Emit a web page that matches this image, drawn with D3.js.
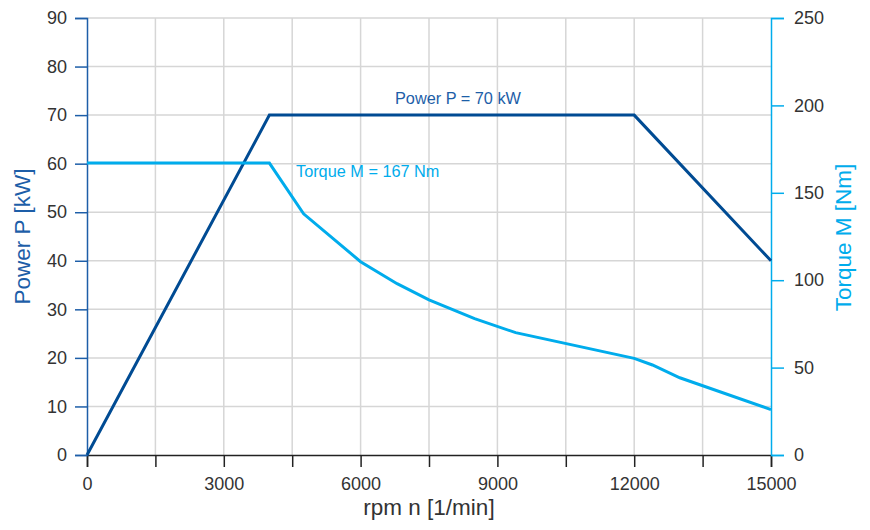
<!DOCTYPE html>
<html>
<head>
<meta charset="utf-8">
<script src="https://cdn.jsdelivr.net/npm/d3@7/dist/d3.min.js"></script>
<style>
  body { margin: 0; background: #fff; }
  svg { font-family: "Liberation Sans", Arial, sans-serif; }
</style>
</head>
<body>
<div class="chart"></div>
<script>
// Data
const rpmTicks = [0, 3000, 6000, 9000, 12000, 15000];
const powerTicks = [0, 10, 20, 30, 40, 50, 60, 70, 80, 90];
const torqueTicks = [0, 50, 100, 150, 200, 250];

const powerRpm = [0, 4000, 12000, 15000];
const powerKw = [0, 70, 70, 40];

const torqueRpm = [0, 4000, 4750, 6000, 6800, 7500, 8500, 9400, 12000, 12400, 13000, 15000];
const torqueNm = [167, 167, 138, 110.6, 98, 88.7, 78, 70, 55.3, 51.5, 44.2, 26];

const width = 870;
const height = 530;
const margin = { top: 18, right: 99, bottom: 75, left: 87 };

const darkBlue = '#004b93';
const lightBlue = '#00acec';

const svg = d3.select('.chart')
  .append('svg')
  .attr('width', width)
  .attr('height', height);

const x = d3.scaleLinear().domain([0, 15000]).range([margin.left, width - margin.right]);
const yP = d3.scaleLinear().domain([0, 90]).range([height - margin.bottom, margin.top]);
const yM = d3.scaleLinear().domain([0, 250]).range([height - margin.bottom, margin.top]);

// grid
const grid = svg.append('g').attr('stroke', '#d6d6d6').attr('stroke-width', 1.5);
d3.range(1500, 15000, 1500).forEach(v => {
  grid.append('line')
    .attr('x1', x(v)).attr('x2', x(v))
    .attr('y1', yP(0)).attr('y2', yP(90));
});
powerTicks.filter(v => v > 0).forEach(v => {
  grid.append('line')
    .attr('x1', x(0)).attr('x2', x(15000))
    .attr('y1', yP(v)).attr('y2', yP(v));
});

// x axis
const xAxis = svg.append('g')
  .attr('transform', `translate(0, ${yP(0)})`)
  .call(d3.axisBottom(x).tickValues(d3.range(0, 15001, 1500)).tickSize(12)
    .tickFormat(d => rpmTicks.includes(d) ? d : ''));
xAxis.select('.domain').attr('stroke', '#222').attr('stroke-width', 1.5);
xAxis.selectAll('.tick line').attr('stroke', '#222').attr('stroke-width', 1.5);
xAxis.selectAll('text').attr('font-size', 18).attr('fill', '#333').attr('y', 22);

// left axis
const leftAxis = svg.append('g')
  .attr('transform', `translate(${x(0)}, 0)`)
  .call(d3.axisLeft(yP).tickValues(powerTicks).tickSize(12).tickPadding(8));
leftAxis.select('.domain').attr('stroke', '#1d5ea8').attr('stroke-width', 1.5);
leftAxis.selectAll('.tick line').attr('stroke', '#1d5ea8').attr('stroke-width', 1.5);
leftAxis.selectAll('text').attr('font-size', 18).attr('fill', '#333');

// right axis
const rightAxis = svg.append('g')
  .attr('transform', `translate(${x(15000)}, 0)`)
  .call(d3.axisRight(yM).tickValues(torqueTicks).tickSize(13).tickPadding(10));
rightAxis.select('.domain').attr('stroke', lightBlue).attr('stroke-width', 1.5);
rightAxis.selectAll('.tick line').attr('stroke', lightBlue).attr('stroke-width', 1.5);
rightAxis.selectAll('text').attr('font-size', 18).attr('fill', '#333');

// lines
const powerLine = d3.line().x(d => x(d[0])).y(d => yP(d[1]));
const torqueLine = d3.line().x(d => x(d[0])).y(d => yM(d[1]));

svg.append('path')
  .datum(powerRpm.map((r, i) => [r, powerKw[i]]))
  .attr('d', powerLine)
  .attr('fill', 'none')
  .attr('stroke', darkBlue)
  .attr('stroke-width', 3);

svg.append('path')
  .datum(torqueRpm.map((r, i) => [r, torqueNm[i]]))
  .attr('d', torqueLine)
  .attr('fill', 'none')
  .attr('stroke', lightBlue)
  .attr('stroke-width', 3);

// annotations
svg.append('text')
  .attr('x', 395).attr('y', 104)
  .attr('font-size', 16.3).attr('fill', '#1d5ea8')
  .text('Power P = 70 kW');

svg.append('text')
  .attr('x', 296).attr('y', 177)
  .attr('font-size', 16.3).attr('fill', lightBlue)
  .text('Torque M = 167 Nm');

// axis titles
svg.append('text')
  .attr('transform', `translate(30, ${(yP(0) + yP(90)) / 2}) rotate(-90)`)
  .attr('text-anchor', 'middle')
  .attr('font-size', 22.5).attr('fill', '#1d5ea8')
  .text('Power P [kW]');

svg.append('text')
  .attr('transform', `translate(851, ${(yM(0) + yM(250)) / 2 + 1}) rotate(-90)`)
  .attr('text-anchor', 'middle')
  .attr('font-size', 22.5).attr('fill', lightBlue)
  .text('Torque M [Nm]');

svg.append('text')
  .attr('x', x(7500)).attr('y', 515)
  .attr('text-anchor', 'middle')
  .attr('font-size', 22.5).attr('fill', '#333')
  .text('rpm n [1/min]');
</script>
</body>
</html>
